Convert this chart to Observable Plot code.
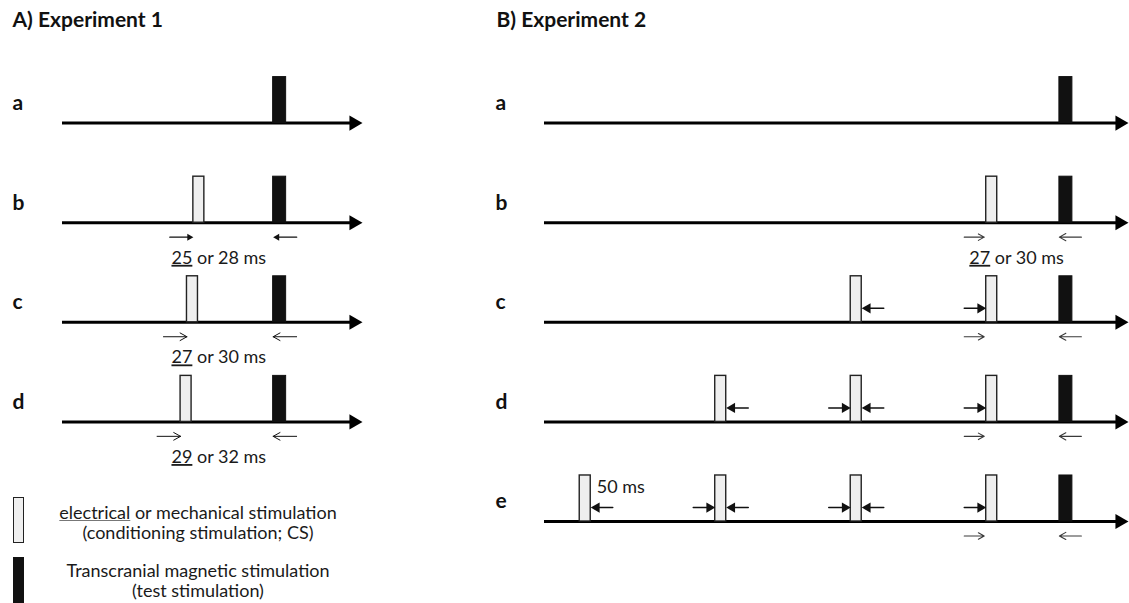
<!DOCTYPE html>
<html>
<head>
<meta charset="utf-8">
<script src="https://cdn.jsdelivr.net/npm/d3@7"></script>
<script src="https://cdn.jsdelivr.net/npm/@observablehq/plot@0.6"></script>
<style>
  body { margin: 0; background: #fff; font-family: Lato, "Open Sans", sans-serif; }
  #page { position: relative; width: 1129px; height: 603px; overflow: hidden; background: #fff; }
  #left { position: absolute; left: 0; top: 0; width: 480px; height: 485px; }
  #right { position: absolute; left: 480px; top: 0; width: 649px; height: 603px; }
  #legend { position: absolute; left: 0; top: 485px; width: 480px; height: 118px; }
  .sw { position: absolute; left: 13px; width: 11px; height: 46px; box-sizing: border-box; }
  .lt { position: absolute; left: 40px; width: 316px; text-align: center; font-size: 18px; line-height: 20px; color: #1a1a1a; }
  .lt u { text-decoration-color: #777; }
</style>
</head>
<body>
<div id="page">
  <div id="left"></div>
  <div id="right"></div>
  <div id="legend">
    <div class="sw" style="top:12px;background:#efefef;border:1.5px solid #222;"></div>
    <div class="lt" style="top:17px;"><u>electrical</u> or mechanical stimulation<br>(conditioning stimulation; CS)</div>
    <div class="sw" style="top:72px;background:#111;"></div>
    <div class="lt" style="top:75px;">Transcranial magnetic stimulation<br>(test stimulation)</div>
  </div>
</div>
<script>
// ---------------- data ----------------
const exp1Title = "A) Experiment 1";
const exp2Title = "B) Experiment 2";

// Experiment 1: rows, CS onsets (ms relative to TMS onset), interval labels
const exp1Rows = ["a", "b", "c", "d"];
const exp1CsOnsets = [[], [-25], [-27], [-29]];
const exp1IntervalMain = [null, 25, 27, 29];
const exp1IntervalAlt = [null, 28, 30, 32];
const exp1Window = [-66, 28];          // time window of the axis (ms)

// Experiment 2
const exp2Rows = ["a", "b", "c", "d", "e"];
const exp2CsOnsets = [[], [-27], [-77, -27], [-127, -77, -27], [-177, -127, -77, -27]];
const exp2IntervalMain = [null, 27, null, null, null];
const exp2IntervalAlt = [null, 30, null, null, null];
const exp2TrainLabel = [null, null, null, null, "50 ms"];
const exp2Window = [-190, 25.5];

const tmsOnset = 0;

// ---------------- drawing ----------------
const FONT = "Lato, 'Open Sans', sans-serif";
const BAR_H = 0.462;                       // bar height in row units
const yScale = {axis: null, domain: [0, 4], range: [122.6, 521]};
const tipOffset = r => 2 * r * Math.sqrt(Math.PI / (3 * Math.sqrt(3)));
const nb = "\u00A0";

function msPerPx(domain, range) { return (domain[1] - domain[0]) / (range[1] - range[0]); }

function basics(rows, csOnsets, win, csW, tmsW, title, dxTitle, dxLabel) {
  const table = rows.map((label, row) => ({label, row}));
  const cs = rows.flatMap((label, row) => csOnsets[row].map(t => ({row, t})));
  const tms = table.map(d => ({row: d.row, t: tmsOnset}));
  return [
    Plot.text([title], {frameAnchor: "top-left", dx: dxTitle, dy: 12, text: d => d,
      fontSize: 21, fontWeight: "bold", fill: "#111", fontFamily: FONT}),
    Plot.text(table, {frameAnchor: "left", y: d => d.row - 0.2, text: "label", textAnchor: "start",
      dx: dxLabel, fontSize: 21, fontWeight: "bold", fill: "#111", fontFamily: FONT}),
    Plot.ruleY(table, {y: "row", x1: () => win[0], x2: () => win[1], stroke: "#000", strokeWidth: 3, insetRight: 10}),
    Plot.dot(table, {x: () => win[1], y: "row", symbol: "triangle", r: 5.6, rotate: 90,
      dx: -tipOffset(5.6), fill: "#000", stroke: "none"}),
    Plot.rect(cs, {x1: "t", x2: d => d.t + csW, y1: "row", y2: d => d.row - BAR_H,
      fill: "#efefef", stroke: "#222", strokeWidth: 1.4}),
    Plot.rect(tms, {x1: "t", x2: d => d.t + tmsW, y1: "row", y2: d => d.row - BAR_H,
      fill: "#111", stroke: "#111", strokeWidth: 1})
  ];
}

function intervalLabels(rows, main, alt, anchor, dx) {
  const lab = rows.map((label, row) => ({row, main: main[row], alt: alt[row]})).filter(d => d.main != null);
  return [
    Plot.text(lab, {x: () => anchor, y: d => d.row + 0.355, text: d => String(d.main), textAnchor: "end",
      dx, fontSize: 18, fill: "#1a1a1a", fontFamily: FONT, ariaDescription: "underlined"}),
    Plot.text(lab, {x: () => anchor, y: d => d.row + 0.355, text: d => `${nb}or ${d.alt} ms`, textAnchor: "start",
      dx, fontSize: 18, fill: "#1a1a1a", fontFamily: FONT})
  ];
}

function filledArrows(data, r, sw, color) {
  const right = data.filter(d => d.x2 > d.x1), left = data.filter(d => d.x2 < d.x1);
  return [
    Plot.arrow(data, {x1: "x1", x2: "x2", y1: "y", y2: "y", headLength: 0, insetEnd: 3, stroke: color, strokeWidth: sw}),
    Plot.dot(right, {x: "x2", y: "y", symbol: "triangle", r, rotate: 90, dx: -tipOffset(r), fill: color, stroke: "none"}),
    Plot.dot(left, {x: "x2", y: "y", symbol: "triangle", r, rotate: -90, dx: tipOffset(r), fill: color, stroke: "none"})
  ];
}

function openArrows(data, color, sw) {
  return Plot.arrow(data, {x1: "x1", x2: "x2", y1: "y", y2: "y", stroke: color, strokeWidth: sw,
    headLength: 12, headAngle: 58});
}

// ---- Experiment 1 ----
const x1Range = [62, 362];
const k1 = msPerPx(exp1Window, x1Range);
const csW1 = 11 * k1, tmsW1 = 13 * k1, arr1 = 23.5 * k1;

const exp1Below = exp1Rows.map((label, row) => ({label, row}))
  .filter(d => exp1CsOnsets[d.row].length)
  .flatMap(d => {
    const cs = d3.max(exp1CsOnsets[d.row]);
    const y = d.row + 0.145;
    return [{label: d.label, x1: cs - arr1, x2: cs, y}, {label: d.label, x1: tmsOnset + arr1, x2: tmsOnset, y}];
  });
const exp1FilledRow = "b";

const plot1 = Plot.plot({
  width: 480, height: 485, margin: 0,
  x: {axis: null, domain: exp1Window, range: x1Range},
  y: yScale,
  style: {background: "transparent", fontFamily: FONT},
  marks: [
    ...basics(exp1Rows, exp1CsOnsets, exp1Window, csW1, tmsW1, exp1Title, 12, 12),
    ...filledArrows(exp1Below.filter(d => d.label === exp1FilledRow), 2.6, 1.4, "#111"),
    openArrows(exp1Below.filter(d => d.label !== exp1FilledRow), "#111", 1),
    ...intervalLabels(exp1Rows, exp1IntervalMain, exp1IntervalAlt, exp1CsOnsets[1][0], -1)
  ]
});

// ---- Experiment 2 ----
const x2Range = [64, 648];
const k2 = msPerPx(exp2Window, x2Range);
const csW2 = 11 * k2, tmsW2 = 13 * k2, arr2 = 22 * k2;

const exp2Below = exp2Rows.map((label, row) => ({label, row}))
  .filter(d => exp2CsOnsets[d.row].length)
  .flatMap(d => {
    const cs = d3.max(exp2CsOnsets[d.row]);
    const y = d.row + 0.145;
    return [{x1: cs - arr2, x2: cs - 2 * k2, y}, {x1: tmsOnset + arr2, x2: tmsOnset, y}];
  });

const exp2Train = exp2Rows.map((label, row) => ({row, on: exp2CsOnsets[row]}))
  .flatMap(d => d3.pairs(d.on).flatMap(([a, b]) => {
    const y = d.row - 0.14;
    return [{x1: a + csW2 + arr2, x2: a + csW2, y}, {x1: b - arr2, x2: b, y}];
  }));

const exp2TrainText = exp2Rows.map((label, row) => ({row, text: exp2TrainLabel[row], on: exp2CsOnsets[row]}))
  .filter(d => d.text);

const plot2 = Plot.plot({
  width: 649, height: 603, margin: 0,
  x: {axis: null, domain: exp2Window, range: x2Range},
  y: yScale,
  style: {background: "transparent", fontFamily: FONT},
  marks: [
    ...basics(exp2Rows, exp2CsOnsets, exp2Window, csW2, tmsW2, exp2Title, 16, 15),
    openArrows(exp2Below, "#3a3a3a", 1.1),
    ...filledArrows(exp2Train, 3.8, 1.5, "#111"),
    Plot.text(exp2TrainText, {x: d => d3.min(d.on) + csW2, y: d => d.row - 0.34, text: "text",
      textAnchor: "start", dx: 6, fontSize: 18, fill: "#1a1a1a", fontFamily: FONT}),
    ...intervalLabels(exp2Rows, exp2IntervalMain, exp2IntervalAlt, exp2CsOnsets[1][0], 4)
  ]
});

document.getElementById("left").append(plot1);
document.getElementById("right").append(plot2);

for (const svg of [plot1, plot2]) {
  svg.querySelectorAll('[aria-description="underlined"] text').forEach(t => {
    t.setAttribute("text-decoration", "underline");
    t.style.textDecoration = "underline";
    t.style.textDecorationColor = "#666";
  });
}
</script>
</body>
</html>
